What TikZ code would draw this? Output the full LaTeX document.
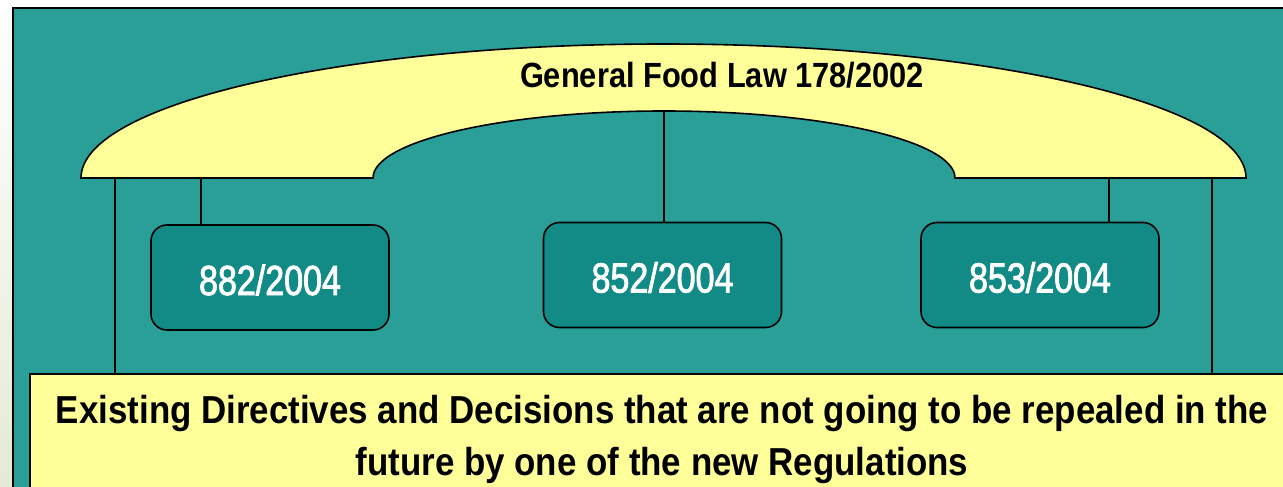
\documentclass[tikz,border=0pt]{standalone}
\usepackage{fontspec}
\setmainfont{Liberation Sans}
\newfontfamily\boldnarrow{Liberation Sans}[FakeStretch=0.88]
\newfontfamily\bottomnarrow{Liberation Sans}[FakeStretch=0.895]
\newfontfamily\regnarrow{Liberation Sans}[FakeStretch=0.81, FakeBold=2]
\definecolor{panelteal}{HTML}{2A9F98}
\definecolor{boxteal}{HTML}{128B87}
\definecolor{paleyellow}{HTML}{FFFF99}
\definecolor{bgleft}{HTML}{E4EAD6}
\tikzset{
  link/.style={draw=black, line width=1.6pt},
  numbox/.style={draw=black, line width=1.6pt, fill=boxteal, rounded corners=16pt,
    minimum width=238pt, minimum height=105pt, inner sep=0pt,
    text=white, text height=35pt, text depth=0pt,
    font=\regnarrow\fontsize{42}{48}\selectfont},
  yellowbox/.style={draw=black, line width=1.6pt, fill=paleyellow}
}
\begin{document}
\begin{tikzpicture}[x=1pt,y=-1pt]
\useasboundingbox (0,0) rectangle (1283,487);
\clip (0,0) rectangle (1283,487);
\shade[top color=white, bottom color=bgleft] (0,0) rectangle (1283,487);
% teal panel
\node[draw=black, line width=1.6pt, fill=panelteal, anchor=north west, inner sep=0pt,
  minimum width=1300pt, minimum height=500pt] (panel) at (12,7) {};
% arch
\filldraw[yellowbox]
  (81,178) arc[start angle=180, end angle=360, x radius=582.5, y radius=134]
  -- (955,178)
  arc[start angle=0, end angle=-180, x radius=291, y radius=67]
  -- cycle;
\coordinate (archL) at (115,178);
\coordinate (archR) at (1212,178);
\coordinate (arch882) at (201,178);
\coordinate (archMid) at (664,111);
\coordinate (arch853) at (1109,178);
\node[anchor=base, font=\boldnarrow\bfseries\fontsize{35}{40}\selectfont] (gfl) at (722,88) {General Food Law 178/2002};
% bottom box
\node[yellowbox, anchor=north west, inner sep=0pt, minimum width=1300pt, minimum height=150pt] (existing) at (29,373) {};
\node[anchor=base, align=center, font=\bottomnarrow\bfseries\fontsize{39}{52}\selectfont] (existingtext) at (662,475)
  {Existing Directives and Decisions that are not going to be repealed in the\\future by one of the new Regulations};
% regulation boxes
\node[numbox] (b882) at (270,277.5) {882/2004};
\node[numbox] (b852) at (662.5,275) {852/2004};
\node[numbox] (b853) at (1040,275) {853/2004};
% links
\draw[link] (archL) -- (archL |- existing.north);
\draw[link] (archR) -- (archR |- existing.north);
\draw[link] (arch882) -- (arch882 |- b882.north);
\draw[link] (archMid) -- (archMid |- b852.north);
\draw[link] (arch853) -- (arch853 |- b853.north);
\end{tikzpicture}
\end{document}
